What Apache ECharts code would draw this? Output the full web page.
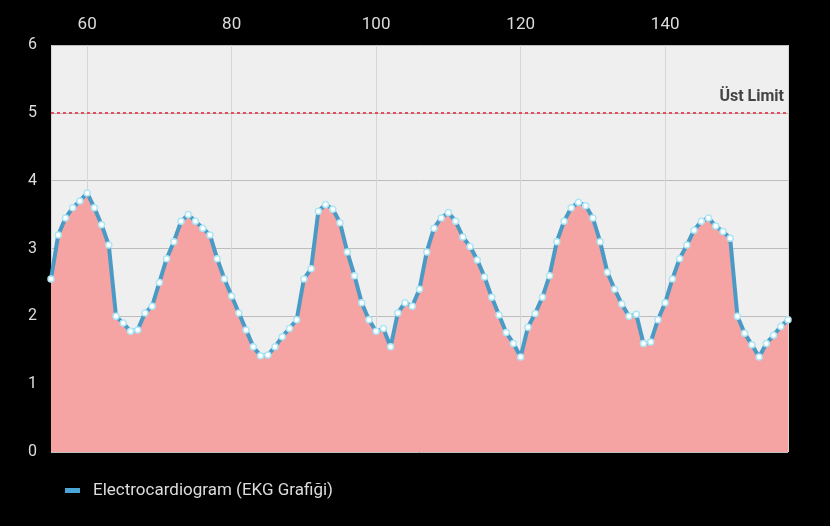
<!DOCTYPE html>
<html>
<head>
<meta charset="utf-8">
<title>EKG</title>
<script src="https://cdn.jsdelivr.net/npm/echarts@6/dist/echarts.min.js"></script>
<style>
  html, body { margin: 0; padding: 0; background: #000; }
  #chart { width: 830px; height: 526px; }
</style>
</head>
<body>
<div id="chart"></div>
<script>
// sample positions (x axis) and EKG values
var samples = [55, 56, 57, 58, 59, 60, 61, 62, 63, 64, 65, 66, 67, 68, 69, 70, 71, 72, 73, 74,
               75, 76, 77, 78, 79, 80, 81, 82, 83, 84, 85, 86, 87, 88, 89, 90, 91, 92, 93, 94,
               95, 96, 97, 98, 99, 100, 101, 102, 103, 104, 105, 106, 107, 108, 109, 110, 111, 112, 113, 114,
               115, 116, 117, 118, 119, 120, 121, 122, 123, 124, 125, 126, 127, 128, 129, 130, 131, 132, 133, 134,
               135, 136, 137, 138, 139, 140, 141, 142, 143, 144, 145, 146, 147, 148, 149, 150, 151, 152, 153, 154,
               155, 156, 157];
var ekgValues = [2.55, 3.2, 3.45, 3.6, 3.7, 3.82, 3.6, 3.35, 3.05, 2.0, 1.9, 1.78, 1.8, 2.05, 2.15, 2.5, 2.85, 3.1, 3.4, 3.5,
                 3.4, 3.3, 3.2, 2.85, 2.55, 2.3, 2.05, 1.8, 1.55, 1.42, 1.43, 1.55, 1.7, 1.82, 1.95, 2.55, 2.7, 3.55, 3.65, 3.58,
                 3.38, 2.95, 2.6, 2.2, 1.95, 1.78, 1.82, 1.55, 2.05, 2.2, 2.15, 2.4, 2.95, 3.3, 3.45, 3.53, 3.4, 3.17, 3.03, 2.83,
                 2.58, 2.28, 2.02, 1.76, 1.6, 1.4, 1.84, 2.04, 2.28, 2.6, 3.1, 3.4, 3.6, 3.68, 3.63, 3.45, 3.1, 2.65, 2.4, 2.18,
                 2.0, 2.03, 1.6, 1.62, 1.95, 2.2, 2.55, 2.85, 3.05, 3.27, 3.4, 3.45, 3.33, 3.25, 3.15, 2.0, 1.75, 1.58, 1.4, 1.6,
                 1.72, 1.85, 1.95];
var seriesName = 'Electrocardiogram (EKG Grafiği)';
var upperLimit = 5;
var upperLimitLabel = 'Üst Limit';

var chart = echarts.init(document.getElementById('chart'));

var points = samples.map(function (x, i) { return [x, ekgValues[i]]; });

var option = {
    backgroundColor: '#000',
    textStyle: { fontFamily: 'Roboto' },
    animation: false,
    grid: {
        show: true,
        left: 51, right: 42, top: 45, bottom: 74,
        backgroundColor: '#efefef',
        borderWidth: 0
    },
    legend: {
        left: 60,
        bottom: 22,
        icon: 'rect',
        itemWidth: 15,
        itemHeight: 5,
        itemGap: 10,
        itemStyle: { color: '#4aa6d8', borderWidth: 0 },
        textStyle: { color: '#dcdcdc', fontSize: 17, fontFamily: 'Roboto', padding: [0, 0, 0, 8] },
        data: [seriesName]
    },
    xAxis: {
        type: 'value',
        position: 'top',
        min: 55,
        max: 157,
        splitNumber: 5,
        axisLine: { show: false },
        axisTick: { show: false },
        axisLabel: {
            color: '#dcdcdc', fontSize: 17, margin: 12,
            showMinLabel: false, showMaxLabel: false
        },
        splitLine: { show: true, lineStyle: { color: '#d6d6d6', width: 1 } }
    },
    yAxis: {
        type: 'value',
        min: 0,
        max: 6,
        interval: 1,
        axisLine: { show: false },
        axisTick: { show: false },
        axisLabel: { color: '#dcdcdc', fontSize: 16, margin: 14 },
        splitLine: { show: true, lineStyle: { color: '#bdbdbd', width: 1 } }
    },
    series: [{
        name: seriesName,
        type: 'line',
        data: points,
        smooth: false,
        symbol: 'circle',
        symbolSize: 6,
        showSymbol: true,
        color: '#4a9ac6',
        lineStyle: { color: '#4a9ac6', width: 4 },
        itemStyle: { color: '#ffffff', borderColor: '#aee6f4', borderWidth: 1.5 },
        areaStyle: { color: '#f5a3a3', opacity: 1 },
        markLine: {
            silent: true,
            symbol: 'none',
            lineStyle: { color: '#e0505f', type: [3, 3], width: 2 },
            label: {
                show: true,
                position: 'insideEndTop',
                formatter: upperLimitLabel,
                color: '#444444',
                fontSize: 16,
                fontWeight: 'bold',
                distance: [4, 8]
            },
            data: [{ yAxis: upperLimit }]
        }
    }]
};

chart.setOption(option);
</script>
</body>
</html>
